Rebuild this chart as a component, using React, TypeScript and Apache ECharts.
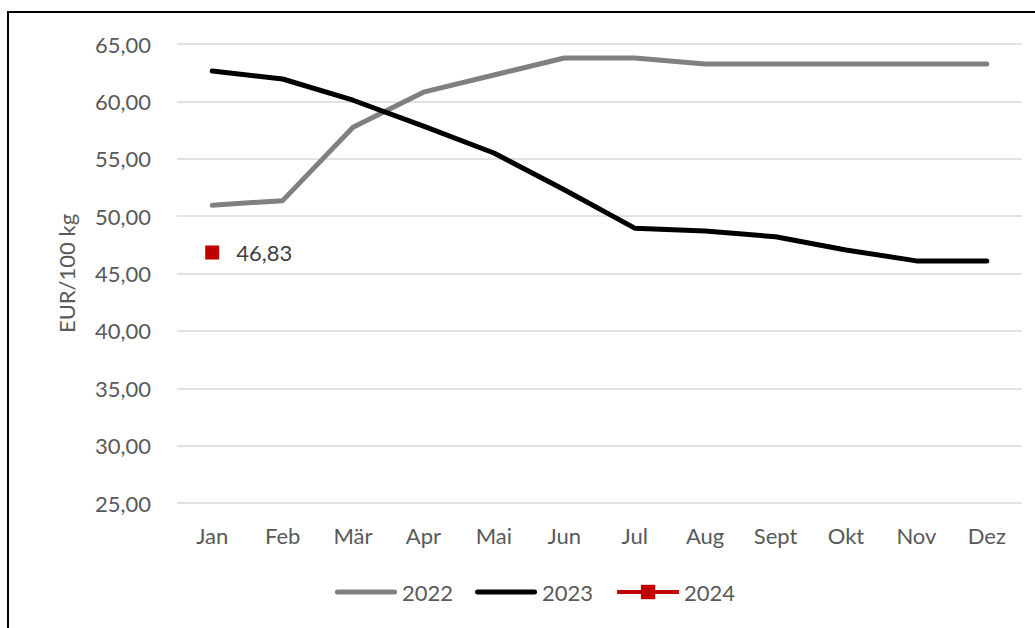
import React, { useEffect, useRef } from "react";
import * as echarts from "echarts";

const months = ["Jan", "Feb", "Mär", "Apr", "Mai", "Jun", "Jul", "Aug", "Sept", "Okt", "Nov", "Dez"];
const values2022 = [50.95, 51.35, 57.75, 60.8, 62.3, 63.78, 63.78, 63.26, 63.26, 63.26, 63.26, 63.26];
const values2023 = [62.65, 61.95, 60.1, 57.85, 55.5, 52.3, 48.95, 48.7, 48.2, 47.05, 46.1, 46.1];
const values2024: (number | null)[] = [46.83, null, null, null, null, null, null, null, null, null, null, null];

const FONT = "Lato, 'Open Sans', sans-serif";
const TEXT = "#595959";
const FS = 22;
const BAR_ICON = "path://M2.5,0 L59.5,0 A2.5,2.5 0 0 1 59.5,5 L2.5,5 A2.5,2.5 0 0 1 2.5,0 Z";

export default function App() {
  const ref = useRef<HTMLDivElement>(null);
  useEffect(() => {
    document.body.style.margin = "0";
    const chart = echarts.init(ref.current!, null, { renderer: "svg" });
    chart.setOption({
      animation: false,
      backgroundColor: "#ffffff",
      textStyle: { fontFamily: FONT },
      graphic: [
        {
          type: "rect",
          shape: { x: 8, y: 12, width: 1040, height: 700 },
          style: { fill: "none", stroke: "#000000", lineWidth: 2 },
          silent: true,
        },
      ],
      grid: { left: 177, right: 13, top: 44, bottom: 125 },
      xAxis: {
        type: "category",
        data: months,
        boundaryGap: true,
        axisLine: { show: false },
        axisTick: { show: false },
        axisLabel: { color: TEXT, fontSize: FS, fontFamily: FONT, margin: 21 },
      },
      yAxis: {
        type: "value",
        min: 25,
        max: 65,
        interval: 5,
        name: "EUR/100 kg",
        nameLocation: "middle",
        nameGap: 100,
        nameRotate: 90,
        nameTextStyle: { color: TEXT, fontSize: FS, fontFamily: FONT },
        axisLine: { show: false },
        axisTick: { show: false },
        axisLabel: {
          color: TEXT,
          fontSize: FS,
          fontFamily: FONT,
          margin: 26,
          formatter: (v: number) => v.toFixed(2).replace(".", ","),
        },
        splitLine: { lineStyle: { color: "#d9d9d9", width: 1.5 } },
      },
      legend: {
        bottom: 20,
        left: 330,
        itemWidth: 62,
        itemHeight: 18,
        itemGap: 22,
        symbolKeepAspect: true,
        lineStyle: { width: 4 },
        textStyle: { color: TEXT, fontSize: FS, fontFamily: FONT },
        data: [
          { name: "2022", icon: BAR_ICON },
          { name: "2023", icon: BAR_ICON },
          { name: "2024" },
        ],
      },
      series: [
        {
          name: "2022",
          type: "line",
          data: values2022,
          symbol: "none",
          lineStyle: { color: "#808080", width: 5, cap: "round" },
          itemStyle: { color: "#808080" },
        },
        {
          name: "2023",
          type: "line",
          data: values2023,
          symbol: "none",
          lineStyle: { color: "#000000", width: 5, cap: "round" },
          itemStyle: { color: "#000000" },
        },
        {
          name: "2024",
          type: "line",
          data: values2024,
          symbol: "rect",
          symbolSize: 14,
          showAllSymbol: true,
          lineStyle: { color: "#c00000", width: 4 },
          itemStyle: { color: "#c00000" },
          label: {
            show: true,
            position: "right",
            distance: 17,
            color: "#404040",
            fontSize: FS,
            fontFamily: FONT,
            formatter: (p: any) => (p.value == null ? "" : Number(p.value).toFixed(2).replace(".", ",")),
          },
        },
      ],
    });
    return () => chart.dispose();
  }, []);
  return <div ref={ref} style={{ width: 1035, height: 628 }} />;
}
